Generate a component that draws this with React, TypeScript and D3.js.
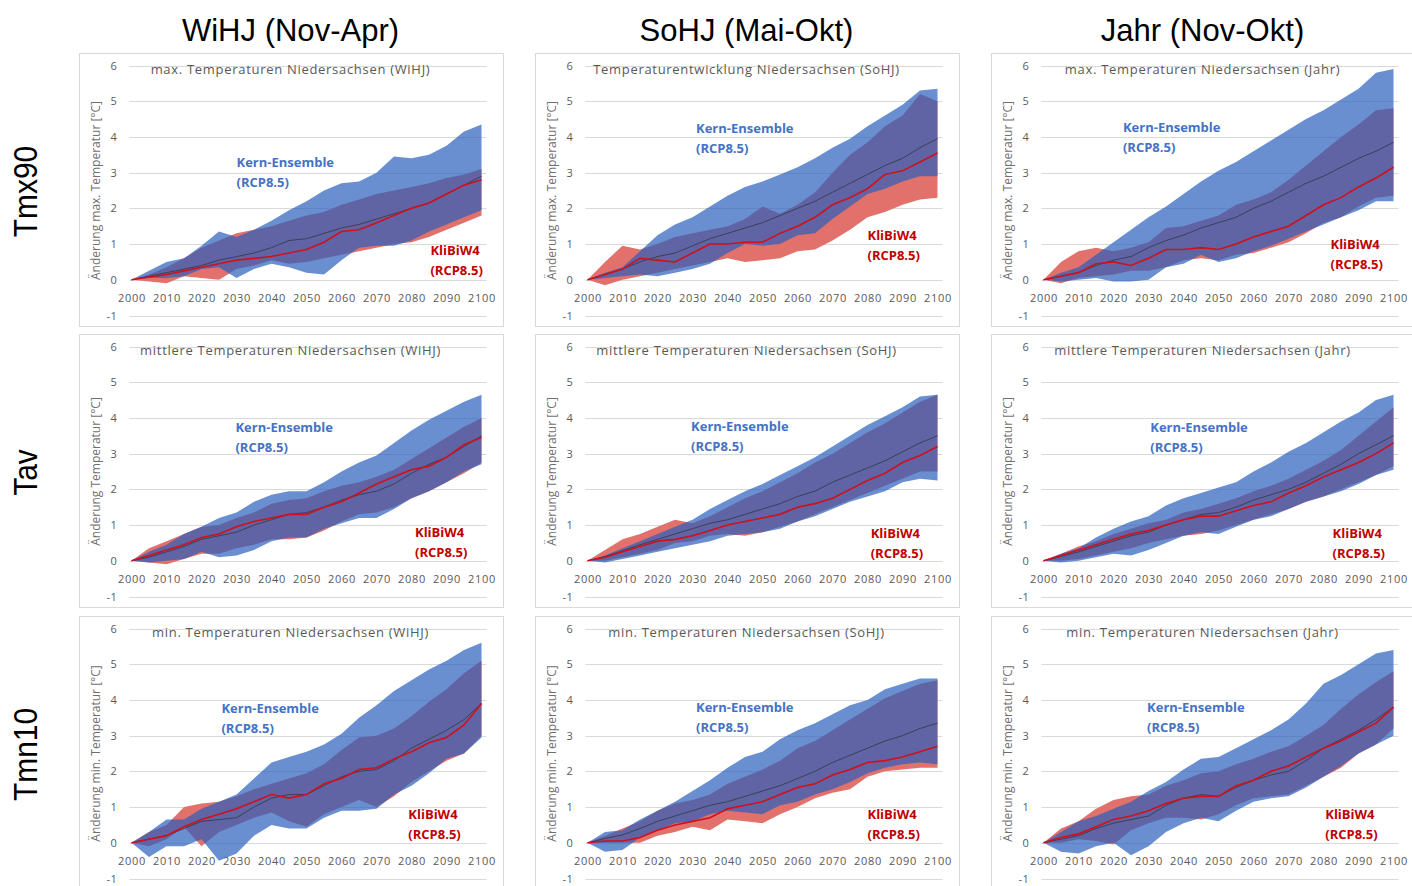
import React from "react";
import * as d3 from "d3";

// ---------- categories / ticks ----------
const YEARS = [2000, 2005, 2010, 2015, 2020, 2025, 2030, 2035, 2040, 2045, 2050, 2055, 2060, 2065, 2070, 2075, 2080, 2085, 2090, 2095, 2100];
const X_TICKS = [2000, 2010, 2020, 2030, 2040, 2050, 2060, 2070, 2080, 2090, 2100];
const Y_TICKS = [-1, 0, 1, 2, 3, 4, 5, 6];
const COL_HEADERS = ["WiHJ (Nov-Apr)", "SoHJ (Mai-Okt)", "Jahr (Nov-Okt)"];
const ROW_HEADERS = ["Tmx90", "Tav", "Tmn10"];

// ---------- Tmx90 WiHJ ----------
const tmxWiBlueHi = [0, 0.25, 0.5, 0.6, 0.95, 1.35, 1.2, 1.4, 1.65, 1.95, 2.2, 2.5, 2.7, 2.75, 3.0, 3.45, 3.4, 3.5, 3.75, 4.15, 4.35];
const tmxWiBlueLo = [0, 0.05, 0.05, 0.1, 0.3, 0.35, 0.05, 0.3, 0.45, 0.35, 0.2, 0.15, 0.55, 0.9, 0.95, 0.95, 1.1, 1.35, 1.55, 1.75, 1.95];
const tmxWiRedHi = [0, 0.15, 0.35, 0.6, 0.9, 1.1, 1.3, 1.4, 1.5, 1.65, 1.8, 1.9, 2.1, 2.25, 2.4, 2.5, 2.6, 2.7, 2.85, 2.95, 3.1];
const tmxWiRedLo = [0, -0.05, -0.1, 0.1, 0.05, 0.0, 0.3, 0.4, 0.55, 0.45, 0.5, 0.6, 0.7, 0.8, 0.9, 1.0, 1.05, 1.2, 1.4, 1.6, 1.8];
const tmxWiEnsMed = [0, 0.1, 0.2, 0.3, 0.4, 0.55, 0.65, 0.75, 0.9, 1.1, 1.15, 1.3, 1.45, 1.55, 1.7, 1.85, 2.0, 2.15, 2.4, 2.65, 2.9];
const tmxWiKliMed = [0, 0.08, 0.15, 0.25, 0.35, 0.45, 0.55, 0.6, 0.65, 0.75, 0.85, 1.05, 1.35, 1.4, 1.6, 1.8, 2.0, 2.15, 2.4, 2.65, 2.8];

// ---------- Tmx90 SoHJ ----------
const tmxSoBlueHi = [0, 0.2, 0.35, 0.8, 1.25, 1.55, 1.75, 2.05, 2.35, 2.6, 2.75, 2.95, 3.15, 3.4, 3.7, 3.95, 4.3, 4.6, 4.9, 5.3, 5.35];
const tmxSoBlueLo = [0, 0.05, 0.1, 0.15, 0.1, 0.2, 0.3, 0.45, 0.75, 1.0, 0.95, 1.0, 1.25, 1.3, 1.7, 2.05, 2.4, 2.55, 2.75, 2.9, 2.9];
const tmxSoRedHi = [0, 0.5, 0.95, 0.85, 1.0, 1.2, 1.3, 1.4, 1.5, 1.7, 2.05, 1.85, 2.1, 2.45, 3.0, 3.5, 3.85, 4.3, 4.6, 5.2, 5.0];
const tmxSoRedLo = [0, -0.15, 0.0, 0.1, 0.2, 0.3, 0.4, 0.5, 0.6, 0.5, 0.55, 0.6, 0.8, 0.85, 1.1, 1.4, 1.75, 1.9, 2.1, 2.25, 2.3];
const tmxSoEnsMed = [0, 0.15, 0.3, 0.5, 0.65, 0.75, 0.95, 1.15, 1.3, 1.45, 1.6, 1.8, 2.0, 2.2, 2.45, 2.7, 2.95, 3.2, 3.4, 3.7, 3.95];
const tmxSoKliMed = [0, 0.15, 0.3, 0.6, 0.55, 0.5, 0.75, 1.0, 1.0, 1.05, 1.05, 1.3, 1.5, 1.75, 2.1, 2.3, 2.55, 2.95, 3.05, 3.3, 3.55];

// ---------- Tmx90 Jahr ----------
const tmxJaBlueHi = [0, 0.2, 0.35, 0.7, 1.05, 1.4, 1.75, 2.05, 2.4, 2.75, 3.05, 3.3, 3.6, 3.9, 4.2, 4.5, 4.75, 5.05, 5.35, 5.8, 5.9];
const tmxJaBlueLo = [0, -0.05, 0.0, 0.05, -0.05, -0.05, 0.0, 0.35, 0.45, 0.7, 0.5, 0.6, 0.8, 0.95, 1.15, 1.35, 1.55, 1.75, 1.95, 2.2, 2.2];
const tmxJaRedHi = [0, 0.5, 0.8, 0.9, 0.8, 0.9, 1.05, 1.45, 1.5, 1.65, 1.8, 2.1, 2.25, 2.45, 2.8, 3.2, 3.6, 4.0, 4.35, 4.75, 4.8];
const tmxJaRedLo = [0, -0.1, 0.05, 0.1, 0.15, 0.25, 0.25, 0.35, 0.55, 0.6, 0.55, 0.7, 0.75, 0.9, 1.05, 1.3, 1.6, 1.75, 2.05, 2.3, 2.35];
const tmxJaEnsMed = [0, 0.1, 0.2, 0.4, 0.55, 0.65, 0.9, 1.1, 1.25, 1.45, 1.6, 1.75, 2.0, 2.2, 2.45, 2.7, 2.9, 3.15, 3.4, 3.6, 3.85];
const tmxJaKliMed = [0, 0.1, 0.2, 0.45, 0.5, 0.4, 0.6, 0.85, 0.85, 0.9, 0.85, 1.0, 1.2, 1.35, 1.5, 1.8, 2.1, 2.3, 2.6, 2.85, 3.15];

// ---------- Tav WiHJ ----------
const tavWiBlueHi = [0, 0.25, 0.45, 0.75, 0.95, 1.2, 1.35, 1.65, 1.85, 1.95, 1.95, 2.2, 2.5, 2.75, 2.95, 3.3, 3.65, 3.95, 4.2, 4.45, 4.65];
const tavWiBlueLo = [0, -0.05, 0.0, 0.05, 0.25, 0.1, 0.15, 0.3, 0.55, 0.65, 0.65, 0.9, 1.05, 1.2, 1.2, 1.45, 1.75, 1.95, 2.2, 2.5, 2.7];
const tavWiRedHi = [0, 0.35, 0.55, 0.75, 0.95, 1.0, 1.2, 1.35, 1.6, 1.7, 1.75, 1.95, 2.1, 2.2, 2.35, 2.55, 2.85, 3.15, 3.45, 3.75, 4.0];
const tavWiRedLo = [0, -0.05, -0.1, 0.05, 0.2, 0.2, 0.35, 0.45, 0.6, 0.6, 0.65, 0.85, 1.1, 1.3, 1.35, 1.5, 1.75, 1.95, 2.2, 2.45, 2.75];
const tavWiEnsMed = [0, 0.1, 0.25, 0.4, 0.6, 0.7, 0.8, 1.0, 1.15, 1.3, 1.35, 1.5, 1.7, 1.85, 1.95, 2.15, 2.45, 2.7, 2.9, 3.2, 3.5];
const tavWiKliMed = [0, 0.15, 0.3, 0.45, 0.65, 0.75, 0.95, 1.1, 1.2, 1.3, 1.3, 1.5, 1.65, 1.9, 2.15, 2.35, 2.55, 2.65, 2.9, 3.25, 3.45];

// ---------- Tav SoHJ ----------
const tavSoBlueHi = [0, 0.15, 0.35, 0.55, 0.75, 0.95, 1.15, 1.45, 1.7, 1.95, 2.15, 2.4, 2.65, 2.9, 3.2, 3.5, 3.8, 4.05, 4.3, 4.6, 4.65];
const tavSoBlueLo = [0, -0.05, 0.05, 0.15, 0.25, 0.35, 0.45, 0.55, 0.7, 0.75, 0.8, 0.9, 1.1, 1.25, 1.45, 1.65, 1.8, 1.95, 2.2, 2.3, 2.25];
const tavSoRedHi = [0, 0.3, 0.6, 0.75, 0.95, 1.15, 1.05, 1.25, 1.5, 1.75, 1.95, 2.2, 2.45, 2.75, 3.0, 3.3, 3.6, 3.85, 4.15, 4.45, 4.65];
const tavSoRedLo = [0, 0.0, 0.1, 0.2, 0.3, 0.5, 0.55, 0.7, 0.75, 0.7, 0.8, 0.95, 1.1, 1.3, 1.5, 1.7, 1.9, 2.1, 2.3, 2.5, 2.5];
const tavSoEnsMed = [0, 0.12, 0.28, 0.45, 0.6, 0.75, 0.9, 1.05, 1.15, 1.3, 1.45, 1.6, 1.8, 1.95, 2.2, 2.4, 2.6, 2.8, 3.05, 3.3, 3.5];
const tavSoKliMed = [0, 0.1, 0.25, 0.4, 0.55, 0.6, 0.7, 0.85, 1.0, 1.1, 1.2, 1.3, 1.5, 1.6, 1.75, 2.0, 2.25, 2.45, 2.75, 2.95, 3.2];

// ---------- Tav Jahr ----------
const tavJaBlueHi = [0, 0.2, 0.35, 0.65, 0.9, 1.1, 1.25, 1.55, 1.75, 1.9, 2.05, 2.2, 2.5, 2.75, 3.05, 3.3, 3.6, 3.9, 4.15, 4.5, 4.65];
const tavJaBlueLo = [0, -0.05, 0.0, 0.1, 0.2, 0.15, 0.3, 0.5, 0.7, 0.8, 0.75, 0.95, 1.15, 1.25, 1.45, 1.65, 1.8, 1.95, 2.15, 2.4, 2.55];
const tavJaRedHi = [0, 0.2, 0.4, 0.55, 0.75, 0.9, 1.05, 1.15, 1.35, 1.45, 1.6, 1.75, 1.95, 2.1, 2.3, 2.55, 2.8, 3.1, 3.5, 3.9, 4.3];
const tavJaRedLo = [0, 0.0, 0.05, 0.15, 0.25, 0.35, 0.5, 0.6, 0.7, 0.75, 0.85, 1.0, 1.15, 1.3, 1.45, 1.65, 1.8, 2.0, 2.2, 2.4, 2.65];
const tavJaEnsMed = [0, 0.12, 0.25, 0.4, 0.55, 0.7, 0.8, 1.0, 1.15, 1.3, 1.35, 1.5, 1.7, 1.85, 2.0, 2.2, 2.45, 2.7, 3.0, 3.25, 3.5];
const tavJaKliMed = [0, 0.15, 0.3, 0.45, 0.6, 0.75, 0.85, 1.0, 1.15, 1.25, 1.25, 1.4, 1.55, 1.65, 1.9, 2.1, 2.35, 2.55, 2.75, 3.0, 3.3];

// ---------- Tmn10 WiHJ ----------
const tmnWiBlueHi = [0, 0.3, 0.65, 0.65, 0.95, 1.15, 1.35, 1.8, 2.25, 2.4, 2.55, 2.75, 3.05, 3.5, 3.85, 4.25, 4.55, 4.85, 5.1, 5.4, 5.6];
const tmnWiBlueLo = [0, -0.4, -0.1, -0.1, 0.1, -0.5, -0.3, 0.2, 0.5, 0.4, 0.4, 0.7, 0.9, 0.9, 0.95, 1.35, 1.6, 1.95, 2.35, 2.5, 2.95];
const tmnWiRedHi = [0, 0.3, 0.5, 1.0, 1.1, 1.15, 1.3, 1.5, 1.65, 1.8, 1.95, 2.2, 2.6, 2.95, 3.0, 3.2, 3.55, 3.95, 4.3, 4.75, 5.1];
const tmnWiRedLo = [0, -0.1, 0.1, 0.45, -0.1, 0.3, 0.5, 0.7, 0.85, 0.6, 0.45, 0.8, 1.0, 1.2, 1.0, 1.3, 1.7, 2.0, 2.3, 2.5, 3.0];
const tmnWiEnsMed = [0, 0.1, 0.2, 0.4, 0.6, 0.65, 0.7, 1.0, 1.25, 1.35, 1.35, 1.6, 1.85, 2.0, 2.05, 2.3, 2.65, 2.9, 3.15, 3.45, 3.9];
const tmnWiKliMed = [0, 0.1, 0.2, 0.45, 0.65, 0.8, 0.95, 1.15, 1.35, 1.25, 1.35, 1.65, 1.8, 2.05, 2.1, 2.35, 2.55, 2.8, 2.95, 3.3, 3.9];

// ---------- Tmn10 SoHJ ----------
const tmnSoBlueHi = [0, 0.3, 0.35, 0.65, 0.9, 1.15, 1.45, 1.75, 2.1, 2.4, 2.55, 2.9, 3.15, 3.35, 3.6, 3.85, 4.0, 4.3, 4.45, 4.6, 4.6];
const tmnSoBlueLo = [0, -0.25, -0.2, 0.15, 0.35, 0.55, 0.6, 0.8, 0.9, 0.85, 0.8, 1.05, 1.15, 1.35, 1.5, 1.7, 1.95, 2.1, 2.2, 2.25, 2.2];
const tmnSoRedHi = [0, 0.2, 0.4, 0.6, 0.9, 1.1, 1.2, 1.35, 1.65, 1.85, 2.05, 2.3, 2.65, 2.85, 3.15, 3.45, 3.75, 4.05, 4.25, 4.45, 4.55];
const tmnSoRedLo = [0, 0.0, 0.0, 0.0, 0.2, 0.3, 0.45, 0.35, 0.65, 0.6, 0.55, 0.8, 1.0, 1.25, 1.4, 1.5, 1.85, 2.0, 2.05, 2.1, 2.1];
const tmnSoEnsMed = [0, 0.12, 0.22, 0.4, 0.6, 0.75, 0.9, 1.05, 1.15, 1.3, 1.45, 1.6, 1.8, 2.0, 2.25, 2.45, 2.65, 2.85, 3.0, 3.2, 3.35];
const tmnSoKliMed = [0, 0.05, 0.05, 0.15, 0.35, 0.5, 0.6, 0.7, 0.95, 1.05, 1.15, 1.35, 1.55, 1.65, 1.9, 2.05, 2.25, 2.3, 2.4, 2.55, 2.7];

// ---------- Tmn10 Jahr ----------
const tmnJaBlueHi = [0, 0.3, 0.6, 0.75, 0.95, 1.15, 1.45, 1.7, 2.05, 2.35, 2.4, 2.65, 2.9, 3.15, 3.45, 3.9, 4.45, 4.7, 5.0, 5.3, 5.4];
const tmnJaBlueLo = [0, -0.25, -0.3, -0.1, 0.0, -0.35, -0.1, 0.3, 0.55, 0.7, 0.6, 0.9, 1.15, 1.25, 1.3, 1.55, 1.85, 2.15, 2.5, 2.75, 3.0];
const tmnJaRedHi = [0, 0.4, 0.6, 0.95, 1.2, 1.3, 1.35, 1.6, 1.75, 1.95, 2.0, 2.2, 2.35, 2.55, 2.7, 3.0, 3.3, 3.75, 4.15, 4.5, 4.8];
const tmnJaRedLo = [0, 0.0, 0.1, 0.05, -0.05, 0.35, 0.55, 0.7, 0.7, 0.65, 0.8, 1.05, 1.25, 1.3, 1.35, 1.6, 1.85, 2.1, 2.5, 2.75, 3.2];
const tmnJaEnsMed = [0, 0.1, 0.2, 0.4, 0.55, 0.65, 0.75, 1.05, 1.25, 1.35, 1.3, 1.55, 1.75, 1.9, 2.0, 2.3, 2.65, 2.9, 3.15, 3.45, 3.8];
const tmnJaKliMed = [0, 0.15, 0.25, 0.45, 0.65, 0.75, 0.9, 1.1, 1.25, 1.3, 1.3, 1.6, 1.75, 2.0, 2.15, 2.4, 2.65, 2.85, 3.1, 3.35, 3.8];

// ---------- panel definitions ----------
type PanelDef = {
  title: string; yLabel: string;
  blueHi: number[]; blueLo: number[]; redHi: number[]; redLo: number[]; ensMed: number[]; kliMed: number[];
  kern: [number, number]; kli: [number, number];
};

const PANELS: PanelDef[] = [
  { title: "max. Temperaturen Niedersachsen (WiHJ)", yLabel: "Änderung max. Temperatur [°C]", blueHi: tmxWiBlueHi, blueLo: tmxWiBlueLo, redHi: tmxWiRedHi, redLo: tmxWiRedLo, ensMed: tmxWiEnsMed, kliMed: tmxWiKliMed, kern: [2030, 3.3], kli: [2085.4, 0.84] },
  { title: "Temperaturentwicklung Niedersachsen (SoHJ)", yLabel: "Änderung max. Temperatur [°C]", blueHi: tmxSoBlueHi, blueLo: tmxSoBlueLo, redHi: tmxSoRedHi, redLo: tmxSoRedLo, ensMed: tmxSoEnsMed, kliMed: tmxSoKliMed, kern: [2031, 4.25], kli: [2080, 1.26] },
  { title: "max. Temperaturen Niedersachsen (Jahr)", yLabel: "Änderung max. Temperatur [°C]", blueHi: tmxJaBlueHi, blueLo: tmxJaBlueLo, redHi: tmxJaRedHi, redLo: tmxJaRedLo, ensMed: tmxJaEnsMed, kliMed: tmxJaKliMed, kern: [2022.7, 4.27], kli: [2082, 1.0] },
  { title: "mittlere Temperaturen Niedersachsen (WiHJ)", yLabel: "Änderung Temperatur [°C]", blueHi: tavWiBlueHi, blueLo: tavWiBlueLo, redHi: tavWiRedHi, redLo: tavWiRedLo, ensMed: tavWiEnsMed, kliMed: tavWiKliMed, kern: [2029.7, 3.74], kli: [2081, 0.81] },
  { title: "mittlere Temperaturen Niedersachsen (SoHJ)", yLabel: "Änderung Temperatur [°C]", blueHi: tavSoBlueHi, blueLo: tavSoBlueLo, redHi: tavSoRedHi, redLo: tavSoRedLo, ensMed: tavSoEnsMed, kliMed: tavSoKliMed, kern: [2029.6, 3.77], kli: [2080.9, 0.78] },
  { title: "mittlere Temperaturen Niedersachsen (Jahr)", yLabel: "Änderung Temperatur [°C]", blueHi: tavJaBlueHi, blueLo: tavJaBlueLo, redHi: tavJaRedHi, redLo: tavJaRedLo, ensMed: tavJaEnsMed, kliMed: tavJaKliMed, kern: [2030.5, 3.74], kli: [2082.6, 0.78] },
  { title: "min. Temperaturen Niedersachsen (WiHJ)", yLabel: "Änderung min. Temperatur [°C]", blueHi: tmnWiBlueHi, blueLo: tmnWiBlueLo, redHi: tmnWiRedHi, redLo: tmnWiRedLo, ensMed: tmnWiEnsMed, kliMed: tmnWiKliMed, kern: [2025.7, 3.77], kli: [2079.1, 0.81] },
  { title: "min. Temperaturen Niedersachsen (SoHJ)", yLabel: "Änderung min. Temperatur [°C]", blueHi: tmnSoBlueHi, blueLo: tmnSoBlueLo, redHi: tmnSoRedHi, redLo: tmnSoRedLo, ensMed: tmnSoEnsMed, kliMed: tmnSoKliMed, kern: [2031, 3.8], kli: [2080, 0.81] },
  { title: "min. Temperaturen Niedersachsen (Jahr)", yLabel: "Änderung min. Temperatur [°C]", blueHi: tmnJaBlueHi, blueLo: tmnJaBlueLo, redHi: tmnJaRedHi, redLo: tmnJaRedLo, ensMed: tmnJaEnsMed, kliMed: tmnJaKliMed, kern: [2029.6, 3.8], kli: [2080.5, 0.81] },
];

// ---------- layout ----------
const W = 1412, H = 886;
const COL_X = [79.5, 535.5, 991.5];
const ROW_Y = [53.5, 334.5, 616.5];
const BOX_W = 424, BOX_H = 273;
const FONT = "'Open Sans', 'DejaVu Sans', sans-serif";
const HEAD_FONT = "'Liberation Sans', Arial, sans-serif";
const BLUE_TXT = "#4472c4";
const RED_TXT = "#c00000";

function Panel({ p, bx, by }: { p: PanelDef; bx: number; by: number }) {
  const x = d3.scaleLinear().domain([2000, 2100]).range([bx + 52, bx + 402]);
  const y = d3.scaleLinear().domain([-1, 6]).range([by + 262, by + 12]);
  const band = (lo: number[], hi: number[]) =>
    d3.area<number>().x((d) => x(d)).y0((_, i) => y(lo[i])).y1((_, i) => y(hi[i]))(YEARS) || "";
  const line = (v: number[]) => d3.line<number>().x((d) => x(d)).y((_, i) => y(v[i]))(YEARS) || "";
  const tc = bx + 211;
  return (
    <g>
      <rect x={bx} y={by} width={BOX_W} height={BOX_H} fill="#fff" stroke="#d9d9d9" strokeWidth={1} />
      {Y_TICKS.map((t) => (
        <g key={"y" + t}>
          <line x1={bx + 50} x2={bx + 407} y1={Math.round(y(t)) + 0.5} y2={Math.round(y(t)) + 0.5} stroke="#d9d9d9" strokeWidth={1} />
          <text x={bx + 38} y={y(t) + 4} textAnchor="end" fontFamily={FONT} fontSize={11} letterSpacing={0.6} fill="#595959">{t}</text>
        </g>
      ))}
      {X_TICKS.map((t) => (
        <text key={"x" + t} x={x(t) + 0.5} y={by + 248} textAnchor="middle" fontFamily={FONT} fontSize={11} letterSpacing={0.7} fill="#595959">{t}</text>
      ))}
      <text x={tc} y={by + 20} textAnchor="middle" fontFamily={FONT} fontSize={13} letterSpacing={0.7} fill="#595959">{p.title}</text>
      <text transform={`translate(${bx + 20},${by + 137}) rotate(-90)`} textAnchor="middle" fontFamily={FONT} fontSize={12} fill="#6f6f6f">{p.yLabel}</text>
      <path d={band(p.redLo, p.redHi)} fill="#e2716b" />
      <path d={band(p.blueLo, p.blueHi)} fill="rgb(42,96,190)" fillOpacity={0.7} />
      <path d={line(p.ensMed)} fill="none" stroke="#3c3f55" strokeWidth={1} />
      <path d={line(p.kliMed)} fill="none" stroke="#d0101a" strokeWidth={1.6} />
      <text x={x(p.kern[0])} y={y(p.kern[1]) + 5} fontFamily={FONT} fontSize={13} fontWeight={700} fill={BLUE_TXT}>Kern-Ensemble</text>
      <text x={x(p.kern[0])} y={y(p.kern[1]) + 25} fontFamily={FONT} fontSize={13} fontWeight={700} fill={BLUE_TXT}>(RCP8.5)</text>
      <text x={x(p.kli[0])} y={y(p.kli[1]) + 5} fontFamily={FONT} fontSize={13} fontWeight={700} fill={RED_TXT}>KliBiW4</text>
      <text x={x(p.kli[0])} y={y(p.kli[1]) + 25} fontFamily={FONT} fontSize={13} fontWeight={700} fill={RED_TXT}>(RCP8.5)</text>
    </g>
  );
}

export default function App() {
  return (
    <svg width={W} height={H} viewBox={`0 0 ${W} ${H}`} style={{ position: "absolute", left: 0, top: 0, background: "#fff" }}>
      <rect width={W} height={H} fill="#fff" />
      {COL_HEADERS.map((h, i) => (
        <text key={h} transform={`translate(${COL_X[i] + 211},41) scale(0.97,1)`} textAnchor="middle" fontFamily={HEAD_FONT} fontSize={32} fill="#000">{h}</text>
      ))}
      {ROW_HEADERS.map((h, i) => (
        <text key={h} transform={`translate(${37},${ROW_Y[i] + 138}) rotate(-90) scale(0.88,1)`} textAnchor="middle" fontFamily={HEAD_FONT} fontSize={34} fill="#000">{h}</text>
      ))}
      {PANELS.map((p, i) => (
        <Panel key={i} p={p} bx={COL_X[i % 3]} by={ROW_Y[Math.floor(i / 3)]} />
      ))}
    </svg>
  );
}
